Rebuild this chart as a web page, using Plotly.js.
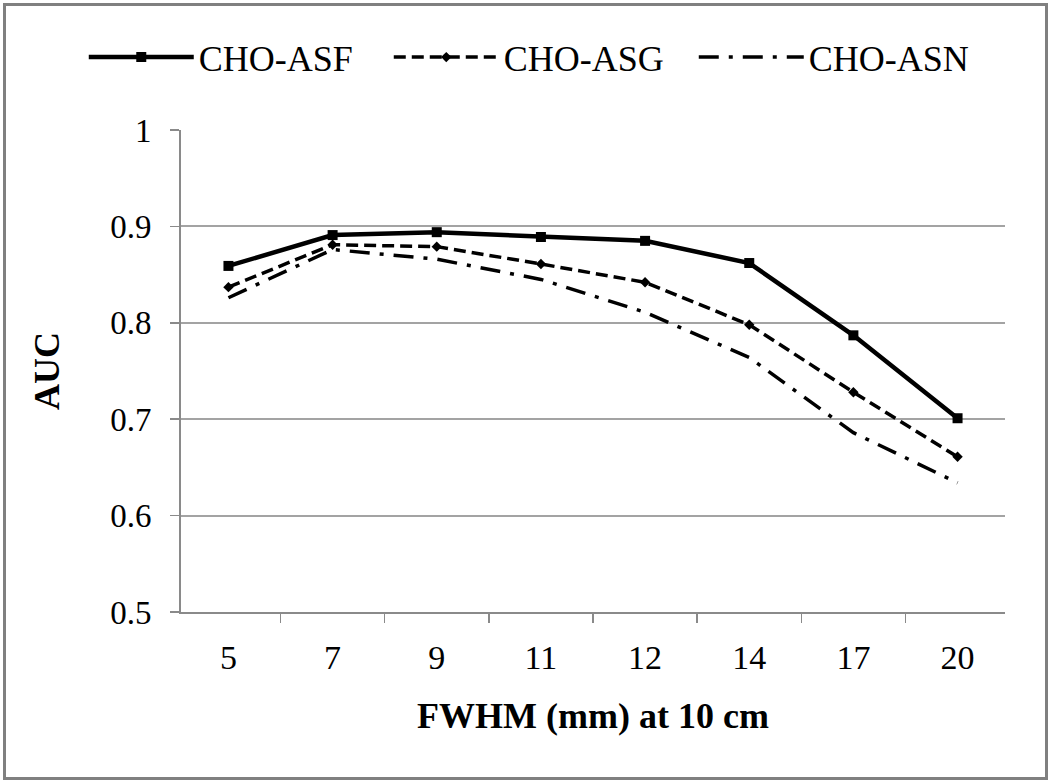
<!DOCTYPE html>
<html>
<head>
<meta charset="utf-8">
<script src="https://cdn.plot.ly/plotly-3.0.1.min.js"></script>
<style>
html,body{margin:0;padding:0;background:#fff;}
#wrap{position:absolute;left:0;top:0;width:1050px;height:781px;}
#frame{position:absolute;left:3px;top:3px;width:1039px;height:771px;border:3px solid #808080;pointer-events:none;}
#chart{position:absolute;left:0;top:0;width:1050px;height:781px;}
</style>
</head>
<body>
<div id="wrap">
<div id="chart"></div>
<div id="frame"></div>
</div>
<script>
const categories = ["5", "7", "9", "11", "12", "14", "17", "20"];
const asf = [0.859, 0.891, 0.894, 0.889, 0.885, 0.862, 0.787, 0.701];
const asg = [0.837, 0.881, 0.879, 0.861, 0.842, 0.798, 0.728, 0.661];
const asn = [0.826, 0.876, 0.866, 0.845, 0.811, 0.764, 0.686, 0.634];
const seriesNames = ["CHO-ASF", "CHO-ASG", "CHO-ASN"];

const serif = "Liberation Serif, Times New Roman, serif";

const traces = [
  {x: categories, y: asf, name: seriesNames[0], type: "scatter", mode: "lines+markers",
   line: {color: "#000", width: 4.5}, marker: {symbol: "square", size: 10, color: "#000"}},
  {x: categories, y: asg, name: seriesNames[1], type: "scatter", mode: "lines+markers",
   line: {color: "#000", width: 3.5, dash: "12px,6px"}, marker: {symbol: "diamond", size: 8, color: "#000"}},
  {x: categories, y: asn, name: seriesNames[2], type: "scatter", mode: "lines",
   line: {color: "#000", width: 3.5, dash: "20px,10px,4px,10px"}}
];

const layout = {
  width: 1050, height: 781,
  paper_bgcolor: "#fff", plot_bgcolor: "#fff",
  margin: {l: 181, r: 45, t: 130, b: 169},
  font: {family: serif, color: "#000", size: 33},
  showlegend: true,
  legend: {orientation: "h", xref: "paper", yref: "paper", x: -0.118, y: 1.151,
           xanchor: "left", yanchor: "middle", entrywidth: 185, entrywidthmode: "pixels",
           font: {family: serif, size: 36, color: "#000"}, itemwidth: 105, tracegroupgap: 0,
           bgcolor: "rgba(0,0,0,0)"},
  xaxis: {type: "category", tickson: "boundaries", ticks: "outside", ticklen: 9, tickwidth: 1.5,
          tickcolor: "#8a8a8a", showline: true, linecolor: "#8a8a8a", linewidth: 2,
          showgrid: false, zeroline: false, ticklabelstandoff: 14,
          tickfont: {family: serif, size: 34, color: "#000"},
          title: {text: "<b>FWHM (mm) at 10 cm</b>", font: {family: serif, size: 36, color: "#000"}, standoff: 28}},
  yaxis: {range: [0.5, 1], dtick: 0.1, tick0: 0.5, ticks: "outside", ticklen: 9, tickwidth: 1.5,
          tickcolor: "#8a8a8a", showline: true, linecolor: "#8a8a8a", linewidth: 2,
          showgrid: true, gridcolor: "#a3a3a3", gridwidth: 2, zeroline: false, ticklabelstandoff: 12,
          tickfont: {family: serif, size: 33, color: "#000"},
          title: {text: "<b>AUC</b>", font: {family: serif, size: 36, color: "#000"}, standoff: 40}}
};

Plotly.newPlot("chart", traces, layout, {displayModeBar: false, staticPlot: true});
</script>
</body>
</html>
